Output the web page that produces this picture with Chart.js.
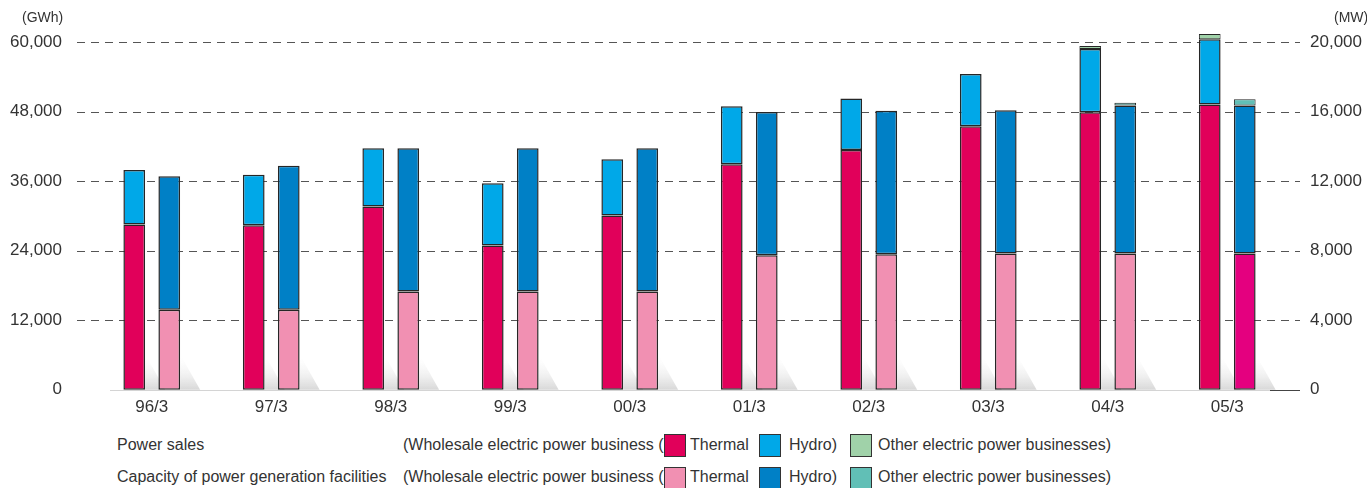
<!DOCTYPE html>
<html>
<head>
<meta charset="utf-8">
<script src="https://cdn.jsdelivr.net/npm/chart.js@4.4.1/dist/chart.umd.min.js"></script>
<style>
  body { margin: 0; background: #fff; font-family: "Liberation Sans", Arial, sans-serif; color: #333; }
  #wrap { position: absolute; left: 0; top: 0; width: 1367px; height: 430px; }
  .unit { position: absolute; top: 9px; font-size: 14px; color: #333; }
  .leg { position: absolute; font-size: 16px; color: #333; white-space: nowrap; line-height: 20px; }
  .sw { position: absolute; width: 20px; height: 21px; border: 1px solid #333; box-sizing: content-box; }
</style>
</head>
<body>
<div id="wrap"><canvas id="chart" width="1367" height="430"></canvas></div>
<div class="unit" style="left:22px">(GWh)</div>
<div class="unit" style="left:1334px">(MW)</div>

<div class="leg" style="left:117px; top:435px">Power sales</div>
<div class="leg" style="left:403px; top:435px">(Wholesale electric power business (</div>
<div class="sw" style="left:664px; top:434px; background:#E1005A"></div>
<div class="leg" style="left:690px; top:435px">Thermal</div>
<div class="sw" style="left:759px; top:434px; background:#00A8E8"></div>
<div class="leg" style="left:789px; top:435px">Hydro)</div>
<div class="sw" style="left:850px; top:434px; background:#A0D2A9"></div>
<div class="leg" style="left:878px; top:435px">Other electric power businesses)</div>

<div class="leg" style="left:117px; top:467px">Capacity of power generation facilities</div>
<div class="leg" style="left:403px; top:467px">(Wholesale electric power business (</div>
<div class="sw" style="left:664px; top:467px; background:#F190B2"></div>
<div class="leg" style="left:690px; top:467px">Thermal</div>
<div class="sw" style="left:759px; top:467px; background:#0080C6"></div>
<div class="leg" style="left:789px; top:467px">Hydro)</div>
<div class="sw" style="left:850px; top:467px; background:#61BFB6"></div>
<div class="leg" style="left:878px; top:467px">Other electric power businesses)</div>

<script>
const years = ["96/3", "97/3", "98/3", "99/3", "00/3", "01/3", "02/3", "03/3", "04/3", "05/3"];

// power sales (GWh)
const salesThermal = [28530, 28400, 31640, 24900, 30090, 38900, 41380, 45480, 47900, 49230];
const salesHydro = [9390, 8720, 10030, 10720, 9680, 10030, 8885, 8990, 10890, 11240];
const salesOther = [0, 0, 0, 0, 0, 0, 0, 0, 520, 920];

// capacity (MW)
const capThermal = [4610, 4610, 5650, 5650, 5650, 7740, 7800, 7840, 7840, 7840];
const capHydro = [7670, 8280, 8240, 8240, 8240, 8240, 8240, 8240, 8510, 8510];
const capOther = [0, 0, 0, 0, 0, 0, 0, 0, 150, 360];

const leftTicks = [0, 12000, 24000, 36000, 48000, 60000];
const rightTicks = [0, 4000, 8000, 12000, 16000, 20000];

const capThermalColors = capThermal.map((v, i) => i === 9 ? "#E4007F" : "#F190B2");

function ds(label, data, color, stack, axis, bw) {
  return {
    label: label,
    data: data,
    backgroundColor: color,
    borderColor: "#262626",
    borderWidth: bw || 1.5,
    borderSkipped: false,
    stack: stack,
    yAxisID: axis,
    clip: false,
  };
}

// dashed grid + baseline + little floor shadows
const decor = {
  id: "decor",
  beforeDatasetsDraw(chart) {
    const ctx = chart.ctx;
    const y = chart.scales.y;
    ctx.save();
    ctx.strokeStyle = "#555";
    ctx.lineWidth = 1;
    ctx.setLineDash([8, 6]);
    leftTicks.forEach((t) => {
      if (t === 0) return;
      const py = Math.round(y.getPixelForValue(t)) + 0.5;
      ctx.beginPath();
      ctx.moveTo(77, py);
      ctx.lineTo(1300, py);
      ctx.stroke();
    });
    ctx.setLineDash([]);
    const base = Math.round(y.getPixelForValue(0)) + 0.5;
    ctx.strokeStyle = "#d4d4d4";
    ctx.beginPath();
    ctx.moveTo(110, base);
    ctx.lineTo(1270, base);
    ctx.stroke();
    ctx.strokeStyle = "#444";
    ctx.beginPath();
    ctx.moveTo(1270, base);
    ctx.lineTo(1300, base);
    ctx.stroke();

    [0, 3].forEach((di) => {
      chart.getDatasetMeta(di).data.forEach((bar) => {
        const right = bar.x + bar.width / 2;
        const b = bar.base;
        const g = ctx.createLinearGradient(0, b, 0, b - 32);
        g.addColorStop(0, "rgba(190,190,190,0.6)");
        g.addColorStop(1, "rgba(235,235,235,0)");
        ctx.fillStyle = g;
        ctx.beginPath();
        ctx.moveTo(right, b);
        ctx.lineTo(right + 20, b);
        ctx.lineTo(right + 2, b - 32);
        ctx.lineTo(right, b - 32);
        ctx.closePath();
        ctx.fill();
      });
    });
    ctx.restore();
  },
};

const tickFont = { family: "'Liberation Sans', Arial, sans-serif", size: 17 };

new Chart(document.getElementById("chart"), {
  type: "bar",
  data: {
    labels: years,
    datasets: [
      ds("Power sales Thermal", salesThermal, "#E1005A", "sales", "y"),
      ds("Power sales Hydro", salesHydro, "#00A8E8", "sales", "y"),
      ds("Power sales Other", salesOther, "#A0D2A9", "sales", "y", 1),
      ds("Capacity Thermal", capThermal, capThermalColors, "cap", "y1"),
      ds("Capacity Hydro", capHydro, "#0080C6", "cap", "y1"),
      ds("Capacity Other", capOther, "#61BFB6", "cap", "y1", 1),
    ],
  },
  options: {
    responsive: false,
    animation: false,
    layout: { padding: { top: 42, bottom: 0, left: 0, right: 0 } },
    datasets: { bar: { categoryPercentage: 0.586, barPercentage: 0.62 } },
    plugins: { legend: { display: false }, tooltip: { enabled: false } },
    scales: {
      x: {
        stacked: true,
        grid: { display: false, drawTicks: false },
        border: { display: false },
        ticks: { color: "#333", font: tickFont, padding: 7 },
        afterFit(s) { s.height = 31; },
      },
      y: {
        position: "left",
        stacked: true,
        min: 0,
        max: 60000,
        grid: { display: false, drawTicks: false },
        border: { display: false },
        afterBuildTicks(s) { s.ticks = leftTicks.map((v) => ({ value: v })); },
        ticks: {
          color: "#333",
          font: tickFont,
          padding: 30,
          callback: (v) => v.toLocaleString("en-US"),
        },
        afterFit(s) { s.width = 92; },
      },
      y1: {
        position: "right",
        stacked: true,
        min: 0,
        max: 20000,
        grid: { display: false, drawTicks: false },
        border: { display: false },
        afterBuildTicks(s) { s.ticks = rightTicks.map((v) => ({ value: v })); },
        ticks: {
          color: "#333",
          font: tickFont,
          padding: 23,
          callback: (v) => v.toLocaleString("en-US"),
        },
        afterFit(s) { s.width = 80; },
      },
    },
  },
  plugins: [decor],
});
</script>
</body>
</html>
